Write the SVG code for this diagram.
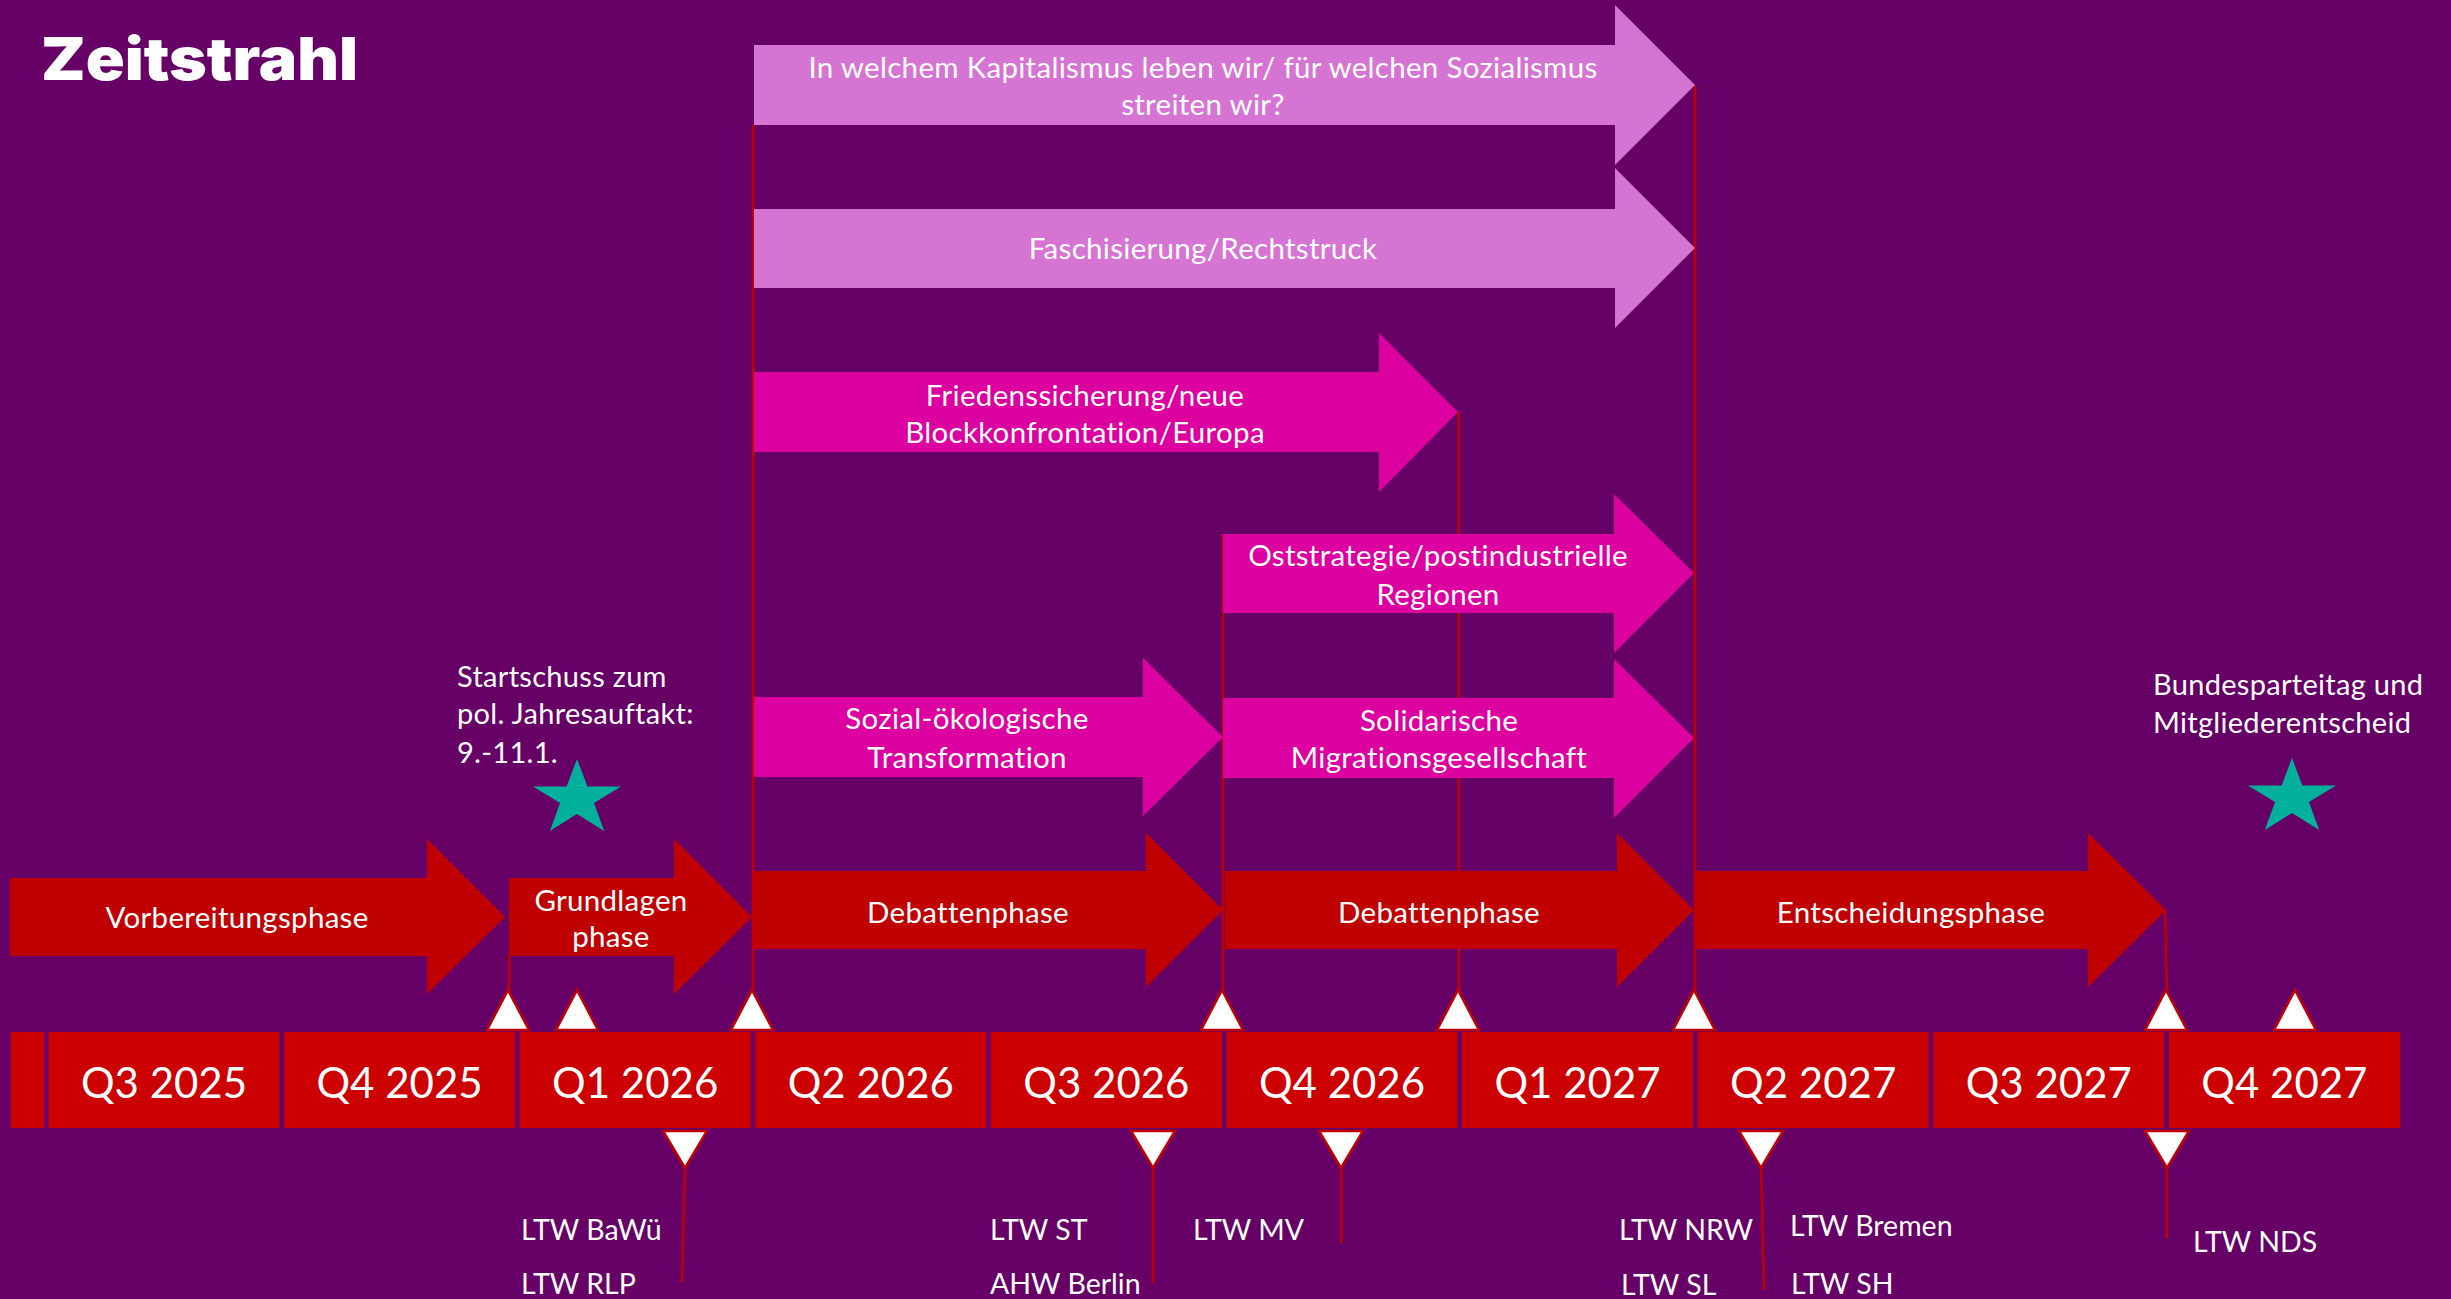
<svg xmlns="http://www.w3.org/2000/svg" width="2451" height="1299" viewBox="0 0 2451 1299">
<style>
.bg{fill:#660066}
.lil{fill:#d674d4}
.mag{fill:#dc00a0}
.red{fill:#c00000}
.cell{fill:#cc0000}
.tri{fill:#ffffff;stroke:#c00000;stroke-width:2.5;stroke-linejoin:miter}
.ln{stroke:#c00000;stroke-width:2.5;fill:none}
.star{fill:#00b09c}
text{font-family:Lato,"Open Sans","Liberation Sans",sans-serif;fill:#ffffff}
.q{font-size:42px;text-anchor:middle}
.t{font-size:29.5px;text-anchor:middle;letter-spacing:0.3px}
.l{font-size:29px;letter-spacing:0.3px}
.e{font-size:28.5px}
.title{font-family:Inter,"Liberation Sans",sans-serif;font-weight:900;font-size:59px}
</style>
<rect class="bg" x="0" y="0" width="2451" height="1299"/>
<text class="title" x="41" y="80" textLength="317" lengthAdjust="spacingAndGlyphs">Zeitstrahl</text>

<g id="connectors">
<line class="ln" x1="509" y1="956" x2="509" y2="992"/>
<line class="ln" x1="753" y1="125" x2="753" y2="992"/>
<line class="ln" x1="1223" y1="534" x2="1223" y2="992"/>
<line class="ln" x1="1459" y1="412" x2="1459" y2="992"/>
<line class="ln" x1="1695" y1="85" x2="1695" y2="992"/>
<line class="ln" x1="2165" y1="910" x2="2167" y2="992"/>
<line class="ln" x1="685" y1="1166" x2="682" y2="1282"/>
<line class="ln" x1="1153" y1="1166" x2="1153" y2="1283"/>
<line class="ln" x1="1341" y1="1166" x2="1341" y2="1243"/>
<line class="ln" x1="1761" y1="1166" x2="1764" y2="1290"/>
<line class="ln" x1="2167" y1="1166" x2="2167" y2="1238"/>
</g>

<g id="arrow-kapitalismus">
<polygon class="lil" points="754,45 1615,45 1615,5 1695,85 1615,165 1615,125 754,125"/>
<text class="t" x="1203" y="78">In welchem Kapitalismus leben wir/ für welchen Sozialismus</text>
<text class="t" x="1203" y="115">streiten wir?</text>
</g>
<g id="arrow-faschisierung">
<polygon class="lil" points="754,209 1615,209 1615,168 1695,248 1615,328 1615,288 754,288"/>
<text class="t" x="1203" y="259">Faschisierung/Rechtstruck</text>
</g>
<g id="arrow-frieden">
<polygon class="mag" points="754,372 1379,372 1379,333 1458,412 1379,492 1379,452 754,452"/>
<text class="t" x="1085" y="406">Friedenssicherung/neue</text>
<text class="t" x="1085" y="443">Blockkonfrontation/Europa</text>
</g>
<g id="arrow-oststrategie">
<polygon class="mag" points="1223,534 1614,534 1614,494 1694,573 1614,653 1614,613 1223,613"/>
<text class="t" x="1438" y="566">Oststrategie/postindustrielle</text>
<text class="t" x="1438" y="605">Regionen</text>
</g>
<g id="arrow-sozialoeko">
<polygon class="mag" points="754,697 1143,697 1143,658 1223,737 1143,816 1143,777 754,777"/>
<text class="t" x="967" y="729">Sozial-ökologische</text>
<text class="t" x="967" y="768">Transformation</text>
</g>
<g id="arrow-solidarisch">
<polygon class="mag" points="1223,698 1614,698 1614,659 1694,738 1614,818 1614,778 1223,778"/>
<text class="t" x="1439" y="731">Solidarische</text>
<text class="t" x="1439" y="768">Migrationsgesellschaft</text>
</g>

<g id="phase-vorbereitung">
<polygon class="red" points="10,878 427,878 427,839 505,917 427,994 427,956 10,956"/>
<text class="t" x="237" y="928">Vorbereitungsphase</text>
</g>
<g id="phase-grundlagen">
<polygon class="red" points="509,878 674,878 674,839 752,917 674,994 674,956 509,956"/>
<text class="t" x="611" y="911">Grundlagen</text>
<text class="t" x="611" y="947">phase</text>
</g>
<g id="phase-debatten1">
<polygon class="red" points="752,871 1146,871 1146,833 1223,910 1146,987 1146,949 752,949"/>
<text class="t" x="968" y="923">Debattenphase</text>
</g>
<g id="phase-debatten2">
<polygon class="red" points="1225,871 1617,871 1617,833 1694,910 1617,987 1617,949 1225,949"/>
<text class="t" x="1439" y="923">Debattenphase</text>
</g>
<g id="phase-entscheidung">
<polygon class="red" points="1695,871 2088,871 2088,833 2166,910 2088,987 2088,949 1695,949"/>
<text class="t" x="1911" y="923">Entscheidungsphase</text>
</g>

<g id="star-startschuss">
<polygon class="star" points="577,759 587.4,786.5 621,786.5 594,803 604.2,831 577,814 549.8,831 560,803 533,786.5 566.6,786.5"/>
<text class="l" x="457" y="687">Startschuss zum</text>
<text class="l" x="457" y="724">pol. Jahresauftakt:</text>
<text class="l" x="457" y="763">9.-11.1.</text>
</g>
<g id="star-bundesparteitag">
<polygon class="star" points="2292,758 2302.4,785.5 2336,785.5 2309,802 2319.2,830 2292,813 2264.8,830 2275,802 2248,785.5 2281.6,785.5"/>
<text class="l" x="2153" y="695">Bundesparteitag und</text>
<text class="l" x="2153" y="733">Mitgliederentscheid</text>
</g>

<g id="timeline">
<rect class="cell" x="11" y="1032" width="33" height="96"/>
<rect class="cell" x="48.5" y="1032" width="231" height="96"/>
<rect class="cell" x="284.1" y="1032" width="231" height="96"/>
<rect class="cell" x="519.7" y="1032" width="231" height="96"/>
<rect class="cell" x="755.3" y="1032" width="231" height="96"/>
<rect class="cell" x="990.9" y="1032" width="231" height="96"/>
<rect class="cell" x="1226.5" y="1032" width="231" height="96"/>
<rect class="cell" x="1462.1" y="1032" width="231" height="96"/>
<rect class="cell" x="1697.7" y="1032" width="231" height="96"/>
<rect class="cell" x="1933.3" y="1032" width="231" height="96"/>
<rect class="cell" x="2168.9" y="1032" width="231" height="96"/>
<text class="q" x="164" y="1098">Q3 2025</text>
<text class="q" x="399.6" y="1098">Q4 2025</text>
<text class="q" x="635.2" y="1098">Q1 2026</text>
<text class="q" x="870.8" y="1098">Q2 2026</text>
<text class="q" x="1106.4" y="1098">Q3 2026</text>
<text class="q" x="1342" y="1098">Q4 2026</text>
<text class="q" x="1577.6" y="1098">Q1 2027</text>
<text class="q" x="1813.2" y="1098">Q2 2027</text>
<text class="q" x="2048.8" y="1098">Q3 2027</text>
<text class="q" x="2284.4" y="1098">Q4 2027</text>
</g>

<g id="markers-up">
<polygon class="tri" points="508,990 529,1030 487,1030"/>
<polygon class="tri" points="577,990 598,1030 556,1030"/>
<polygon class="tri" points="752,990 773,1030 731,1030"/>
<polygon class="tri" points="1222,990 1243,1030 1201,1030"/>
<polygon class="tri" points="1458,990 1479,1030 1437,1030"/>
<polygon class="tri" points="1694,990 1715,1030 1673,1030"/>
<polygon class="tri" points="2166,990 2187,1030 2145,1030"/>
<polygon class="tri" points="2295,990 2316,1030 2274,1030"/>
</g>

<g id="markers-down">
<polygon class="tri" points="663,1131 707,1131 685,1168"/>
<polygon class="tri" points="1131,1131 1175,1131 1153,1168"/>
<polygon class="tri" points="1319,1131 1363,1131 1341,1168"/>
<polygon class="tri" points="1739,1131 1783,1131 1761,1168"/>
<polygon class="tri" points="2145,1131 2189,1131 2167,1168"/>
</g>

<g id="elections">
<text class="e" x="521" y="1240">LTW BaWü</text>
<text class="e" x="521" y="1294">LTW RLP</text>
<text class="e" x="990" y="1240">LTW ST</text>
<text class="e" x="990" y="1294">AHW Berlin</text>
<text class="e" x="1193" y="1240">LTW MV</text>
<text class="e" x="1619" y="1240">LTW NRW</text>
<text class="e" x="1621" y="1295">LTW SL</text>
<text class="e" x="1790" y="1236">LTW Bremen</text>
<text class="e" x="1791" y="1294">LTW SH</text>
<text class="e" x="2193" y="1252">LTW NDS</text>
</g>
</svg>
